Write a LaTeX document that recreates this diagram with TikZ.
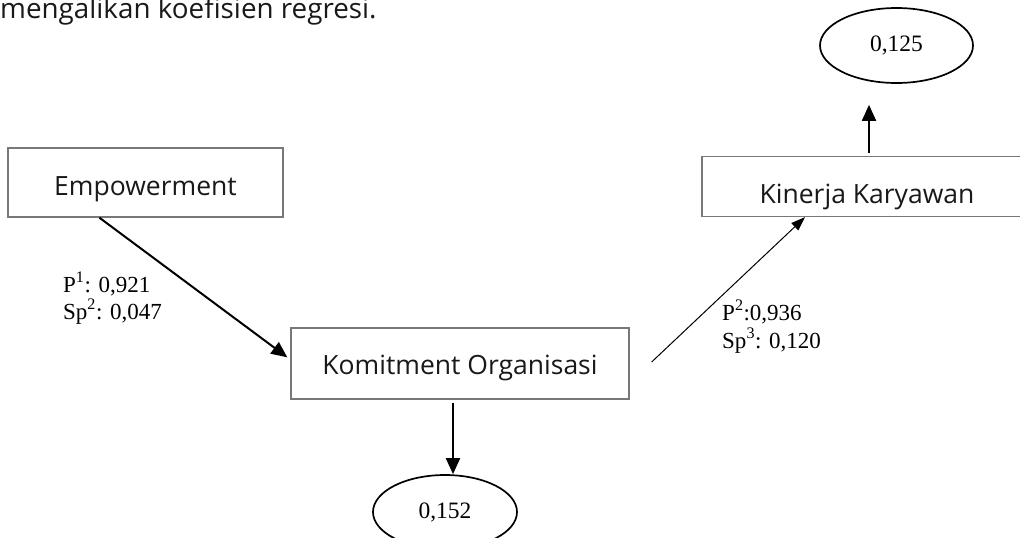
\documentclass[tikz,border=0pt]{standalone}
\usepackage{fontspec}
\setmainfont{Liberation Serif}
\newfontfamily\boxfont{Open Sans}
\usetikzlibrary{arrows.meta,calc,shapes.geometric}
\definecolor{boxgray}{RGB}{120,120,120}
\begin{document}
\begin{tikzpicture}[x=1pt,y=-1pt,
  varbox/.style={draw=boxgray,line width=1.3pt,fill=white,inner sep=0pt,
    font=\boxfont\fontsize{26.5}{30}\selectfont,text=black!90},
  resid/.style={draw=black,line width=1.7pt,shape=ellipse,inner sep=0pt,
    font=\fontsize{23.5}{27}\selectfont},
  coef/.style={anchor=base west,inner sep=0pt,font=\fontsize{23}{26}\selectfont},
  bigarrow/.style={line width=2pt,-{Triangle[length=16pt,width=14pt]}},
  thinarrow/.style={line width=1pt,-{Triangle[length=14pt,width=10pt]}}]
\useasboundingbox (0,0) rectangle (1020,538);
\begin{scope}
\clip (0,0) rectangle (1020,538);
\node[anchor=base west,inner sep=0pt,font=\boxfont\fontsize{27.8}{32}\selectfont,text=black!90] (top) at (0,19) {mengalikan koefisien regresi.};
\node[varbox,minimum width=275pt,minimum height=69pt,text height=30pt,text depth=5pt] (emp) at (145.5,182.5) {Empowerment};
\node[varbox,minimum width=338pt,minimum height=71pt,text height=26pt,text depth=5pt] (kom) at (460,363.5) {Komitment Organisasi};
\node[varbox,minimum width=330pt,minimum height=60pt,text height=38pt,text depth=5pt] (kin) at (867,186.5) {Kinerja Karyawan};
\node[resid,minimum width=144pt,minimum height=74pt] (e1) at (445,512) {0,152};
\node[resid,minimum width=153pt,minimum height=75pt] (e2) at (896.5,45.5) {0,125};
\node[coef] (l1a) at (63,292) {P\textsuperscript{1}: 0,921};
\node[coef] (l1b) at (63,319) {Sp\textsuperscript{2}: 0,047};
\node[coef] (l2a) at (722,320) {P\textsuperscript{2}:0,936};
\node[coef] (l2b) at (722,348) {Sp\textsuperscript{3}: 0,120};
\coordinate (kstart) at ([xshift=22pt,yshift=1.5pt]kom.east);
\draw[bigarrow] ([xshift=92pt]emp.south west) -- ([xshift=-3pt,yshift=-30pt]kom.north west);
\draw[bigarrow] ([xshift=-7pt,yshift=-3pt]kom.south) -- ([xshift=8pt]e1.north);
\draw[bigarrow] ([xshift=2pt,yshift=3pt]kin.north) -- ([xshift=-27.5pt,yshift=-21pt]e2.south);
\draw[thinarrow] (kstart) -- ([xshift=-62pt]kin.south);
\end{scope}
\end{tikzpicture}
\end{document}
